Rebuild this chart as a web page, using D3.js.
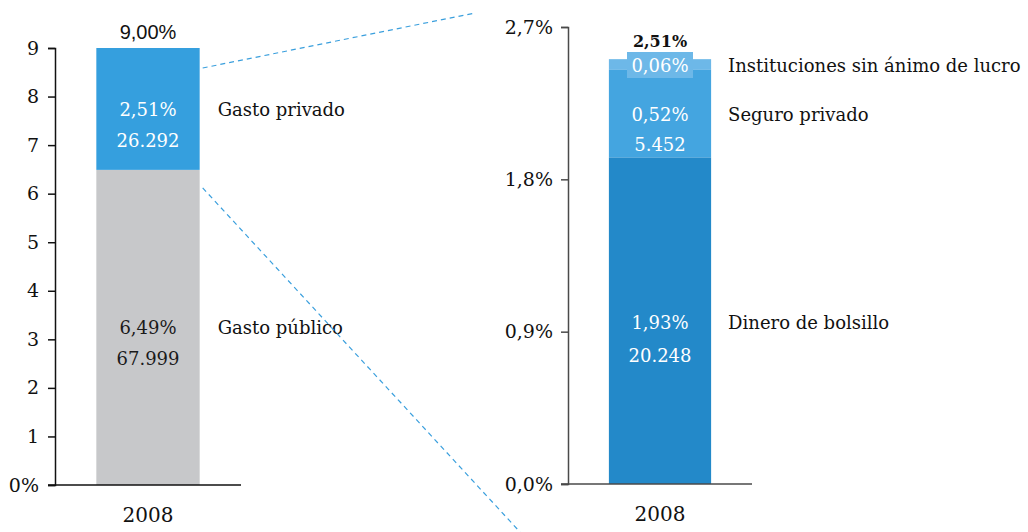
<!DOCTYPE html>
<html>
<head>
<meta charset="utf-8">
<script src="https://cdn.jsdelivr.net/npm/d3@7"></script>
<style>
  body { margin: 0; background: #fff; }
  svg text { font-family: "DejaVu Serif", "Liberation Serif", serif; }
</style>
</head>
<body>
<div id="chart"></div>
<script>
// left panel: total spending split
var years = ['2008'];
var leftSeries = ['Gasto público', 'Gasto privado'];
var leftPct = [6.49, 2.51];
var leftAmount = ['67.999', '26.292'];
var leftTotal = '9,00%';
var leftTicks = [0, 1, 2, 3, 4, 5, 6, 7, 8, 9];

// right panel: private spending split
var rightSeries = ['Dinero de bolsillo', 'Seguro privado', 'Instituciones sin ánimo de lucro'];
var rightPct = [1.93, 0.52, 0.06];
var rightAmount = ['20.248', '5.452', null];
var rightTotal = '2,51%';
var rightTicks = [0, 0.9, 1.8, 2.7];

var width = 1028,
  height = 532;

var svg = d3.select('#chart').append('svg')
  .attr('width', width)
  .attr('height', height);

function fmt(v, d) {
  return v.toFixed(d).replace('.', ',') + '%';
}

function stack(vals) {
  var acc = 0;
  return vals.map(function(v) {
    var s = { y0: acc, y1: acc + v, v: v };
    acc += v;
    return s;
  });
}

var fs = 18;

// ---- left panel ----
var xL = d3.scaleBand().domain(years).range([55, 241]).paddingInner(0).paddingOuter(0.4);
var yL = d3.scaleLinear().domain([0, 9]).range([485, 48]);
var leftColors = ['#c7c8ca', '#359fde'];
var leftText = ['#1a1a1a', '#ffffff'];

var gL = svg.append('g');

var yAxisL = d3.axisLeft(yL).tickValues(leftTicks).tickSize(7)
  .tickFormat(function(d) { return d === 0 ? '0%' : d; });
gL.append('g')
  .attr('transform', 'translate(55,0)')
  .call(yAxisL)
  .call(function(g) {
    g.select('.domain').attr('stroke', '#111').attr('stroke-width', 1.5);
    g.selectAll('.tick line').attr('stroke', '#111').attr('stroke-width', 1.5);
    g.selectAll('.tick text').attr('fill', '#111').attr('x', -16)
      .style('font-size', '19px').style('font-family', '"DejaVu Serif", serif');
  });

var segL = stack(leftPct);
gL.selectAll('rect.seg').data(segL).enter().append('rect')
  .attr('class', 'seg')
  .attr('x', xL('2008'))
  .attr('width', xL.bandwidth())
  .attr('y', function(d) { return yL(d.y1); })
  .attr('height', function(d) { return yL(d.y0) - yL(d.y1); })
  .attr('fill', function(d, i) { return leftColors[i]; });

// bar value labels
var cxL = xL('2008') + xL.bandwidth() / 2;
var labelYL = [328, 110];
segL.forEach(function(d, i) {
  gL.append('text').attr('x', cxL).attr('y', labelYL[i]).attr('dy', '0.35em')
    .attr('text-anchor', 'middle').attr('font-size', fs).attr('fill', leftText[i])
    .text(fmt(d.v, 2));
  gL.append('text').attr('x', cxL).attr('y', labelYL[i] + 31).attr('dy', '0.35em')
    .attr('text-anchor', 'middle').attr('font-size', fs).attr('fill', leftText[i])
    .text(leftAmount[i]);
  gL.append('text').attr('x', xL('2008') + xL.bandwidth() + 18).attr('y', labelYL[i]).attr('dy', '0.35em')
    .attr('font-size', fs).attr('fill', '#111')
    .text(leftSeries[i]);
});

gL.append('text').attr('x', cxL).attr('y', yL(9) - 16).attr('dy', '0.35em')
  .attr('text-anchor', 'middle').attr('fill', '#111')
  .style('font-size', '20px')
  .style('font-family', '"Liberation Sans", Arial, sans-serif')
  .text(leftTotal);

gL.append('line')
  .attr('x1', 48).attr('x2', 241)
  .attr('y1', yL(0)).attr('y2', yL(0))
  .attr('stroke', '#111').attr('stroke-width', 1.5);

gL.append('text').attr('x', cxL).attr('y', 515).attr('dy', '0.35em')
  .attr('text-anchor', 'middle').attr('font-size', 20).attr('fill', '#111')
  .text(years[0]);

// ---- right panel ----
var xR = d3.scaleBand().domain(years).range([568, 752]).paddingInner(0).paddingOuter(0.4);
var yR = d3.scaleLinear().domain([0, 2.7]).range([484, 27]);
var rightColors = ['#2389c9', '#44a5e0', '#6db8e8'];

var gR = svg.append('g');

var yAxisR = d3.axisLeft(yR).tickValues(rightTicks).tickSize(7)
  .tickFormat(function(d) { return fmt(d, 1); });
gR.append('g')
  .attr('transform', 'translate(568,0)')
  .call(yAxisR)
  .call(function(g) {
    g.select('.domain').attr('stroke', '#4a4a4a').attr('stroke-width', 1.5);
    g.selectAll('.tick line').attr('stroke', '#4a4a4a').attr('stroke-width', 1.5);
    g.selectAll('.tick text').attr('fill', '#111').attr('x', -15)
      .style('font-size', '19px').style('font-family', '"DejaVu Serif", serif');
  });

var segR = stack(rightPct);
gR.selectAll('rect.seg').data(segR).enter().append('rect')
  .attr('class', 'seg')
  .attr('x', xR('2008'))
  .attr('width', xR.bandwidth())
  .attr('y', function(d) { return yR(d.y1); })
  .attr('height', function(d) { return yR(d.y0) - yR(d.y1); })
  .attr('fill', function(d, i) { return rightColors[i]; });

var cxR = xR('2008') + xR.bandwidth() / 2;
var labelYR = [323, 115, 66];

// small segment label sits in a box of its own colour
gR.append('rect')
  .attr('x', cxR - 33).attr('width', 66)
  .attr('y', labelYR[2] - 14).attr('height', 26)
  .attr('fill', rightColors[2]);

segR.forEach(function(d, i) {
  gR.append('text').attr('x', cxR).attr('y', labelYR[i]).attr('dy', '0.35em')
    .attr('text-anchor', 'middle').attr('font-size', fs).attr('fill', '#fff')
    .text(fmt(d.v, 2));
  if (rightAmount[i]) {
    gR.append('text').attr('x', cxR).attr('y', labelYR[i] + (i === 0 ? 33 : 30)).attr('dy', '0.35em')
      .attr('text-anchor', 'middle').attr('font-size', fs).attr('fill', '#fff')
      .text(rightAmount[i]);
  }
  gR.append('text').attr('x', xR('2008') + xR.bandwidth() + 17).attr('y', labelYR[i]).attr('dy', '0.35em')
    .attr('font-size', fs).attr('fill', '#111')
    .text(rightSeries[i]);
});

gR.append('text').attr('x', cxR).attr('y', 41).attr('dy', '0.35em')
  .attr('text-anchor', 'middle').attr('font-size', 16).attr('font-weight', 'bold').attr('fill', '#111')
  .text(rightTotal);

gR.append('line')
  .attr('x1', 561).attr('x2', 752)
  .attr('y1', yR(0)).attr('y2', yR(0))
  .attr('stroke', '#4a4a4a').attr('stroke-width', 1.5);

gR.append('text').attr('x', cxR).attr('y', 514).attr('dy', '0.35em')
  .attr('text-anchor', 'middle').attr('font-size', 20).attr('fill', '#111')
  .text(years[0]);

// ---- dashed connectors between the panels ----
var barRight = xL('2008') + xL.bandwidth() + 3;
var connectors = [
  { x1: barRight, y1: yL(9) + 20, x2: 475, y2: 13 },
  { x1: barRight, y1: yL(leftPct[0]) + 18, x2: 520, y2: 532 }
];
svg.selectAll('line.conn').data(connectors).enter().append('line')
  .attr('class', 'conn')
  .attr('x1', function(d) { return d.x1; })
  .attr('y1', function(d) { return d.y1; })
  .attr('x2', function(d) { return d.x2; })
  .attr('y2', function(d) { return d.y2; })
  .attr('stroke', '#3a9fdd')
  .attr('stroke-width', 1.2)
  .attr('stroke-dasharray', '5,4');
</script>
</body>
</html>
